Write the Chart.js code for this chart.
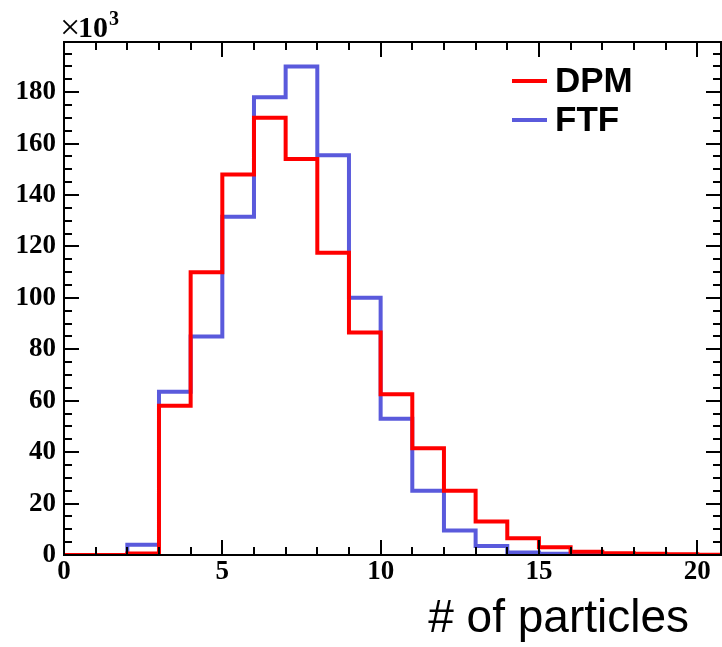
<!DOCTYPE html>
<html>
<head>
<meta charset="utf-8">
<script src="https://cdn.jsdelivr.net/npm/chart.js@4/dist/chart.umd.min.js"></script>
<style>
html,body{margin:0;padding:0;background:#fff;}
#wrap{width:722px;height:647px;position:relative;}
</style>
</head>
<body>
<div id="wrap"><canvas id="c" width="722" height="647"></canvas></div>
<script>
// bin lower edges (width 1)
const binEdges = [0,1,2,3,4,5,6,7,8,9,10,11,12,13,14,15,16,17,18,19,20];
// counts in units of 10^3
const dpmValues = [0,0,0.6,58,110,148,170,154,117.5,86.5,62.5,41.5,25,13,6.5,3,1.3,0.7,0.5,0.3,0.1];
const ftfValues = [0,0,4,63.5,85,131.5,178,190,155.5,100,53,25,9.5,3.5,1,0.5,0.3,0.1,0.1,0,0];
const seriesNames = ['DPM','FTF'];
const xTickLabels = [0,5,10,15,20];
const yTickLabels = [0,20,40,60,80,100,120,140,160,180];

const binWidth = 1;
function histPoints(vals){
  const pts = binEdges.map((e,i)=>({x:e,y:vals[i]}));
  pts.push({x:binEdges[binEdges.length-1]+binWidth,y:vals[vals.length-1]});
  return pts;
}

const RED = '#ff0000';
const BLUE = 'rgb(90,90,220)';

const rootPlugin = {
  id:'rootDeco',
  afterDraw(chart){
    const ctx = chart.ctx;
    const xs = chart.scales.x, ys = chart.scales.y;
    const a = chart.chartArea;
    ctx.save();
    // frame
    ctx.strokeStyle = '#000';
    ctx.lineWidth = 2;
    ctx.strokeRect(a.left, a.top, a.right - a.left, a.bottom - a.top);
    // x ticks (inward, bottom and top)
    for (let v = 0; v <= 20; v += 1){
      const px = Math.round(xs.getPixelForValue(v));
      const len = (v % 5 === 0) ? 15 : 8;
      ctx.beginPath();
      ctx.moveTo(px, a.bottom); ctx.lineTo(px, a.bottom - len);
      ctx.moveTo(px, a.top); ctx.lineTo(px, a.top + len);
      ctx.stroke();
    }
    // y ticks (inward, left and right)
    for (let v = 0; v <= 195; v += 5){
      const py = Math.round(ys.getPixelForValue(v));
      const len = (v % 20 === 0) ? 15 : 8;
      ctx.beginPath();
      ctx.moveTo(a.left, py); ctx.lineTo(a.left + len, py);
      ctx.moveTo(a.right, py); ctx.lineTo(a.right - len, py);
      ctx.stroke();
    }
    // tick labels
    ctx.fillStyle = '#000';
    ctx.font = 'bold 27px "Liberation Serif", "Times New Roman", serif';
    ctx.textAlign = 'center';
    ctx.textBaseline = 'top';
    xTickLabels.forEach(v=>{
      ctx.fillText(String(v), xs.getPixelForValue(v), a.bottom + 4);
    });
    ctx.textAlign = 'right';
    ctx.textBaseline = 'middle';
    yTickLabels.forEach(v=>{
      ctx.fillText(String(v), a.left - 8, ys.getPixelForValue(v));
    });
    // x10^3
    ctx.textAlign = 'left';
    ctx.textBaseline = 'alphabetic';
    ctx.font = '36px "Liberation Serif", "Times New Roman", serif';
    ctx.fillText('\u00d7', 60, 39);
    ctx.font = 'bold 30px "Liberation Serif", "Times New Roman", serif';
    ctx.fillText('10', 78, 37);
    const xx = 78 + ctx.measureText('10').width;
    ctx.font = 'bold 20px "Liberation Serif", "Times New Roman", serif';
    ctx.fillText('3', xx + 1, 25);
    // axis title
    ctx.font = '46px "Liberation Sans", Arial, sans-serif';
    ctx.textAlign = 'right';
    ctx.fillText('# of particles', 689, 632);
    // legend
    const entries = [[seriesNames[0], RED, 81],[seriesNames[1], BLUE, 120]];
    ctx.font = 'bold 35px "Liberation Sans", Arial, sans-serif';
    ctx.textAlign = 'left';
    ctx.textBaseline = 'middle';
    entries.forEach(([name,col,y])=>{
      ctx.strokeStyle = col; ctx.lineWidth = 4;
      ctx.beginPath(); ctx.moveTo(512,y); ctx.lineTo(547,y); ctx.stroke();
      ctx.fillStyle = '#000';
      ctx.fillText(name, 555, y + 1);
    });
    ctx.restore();
  }
};

new Chart(document.getElementById('c'), {
  type:'line',
  data:{
    datasets:[
      {label:seriesNames[0], data:histPoints(dpmValues), borderColor:RED, borderWidth:4, stepped:'before', pointRadius:0, fill:false},
      {label:seriesNames[1], data:histPoints(ftfValues), borderColor:BLUE, borderWidth:4, stepped:'before', pointRadius:0, fill:false}
    ]
  },
  options:{
    responsive:false,
    animation:false,
    events:[],
    layout:{padding:{left:0,right:1,top:42,bottom:0}},
    plugins:{legend:{display:false}, tooltip:{enabled:false}},
    scales:{
      x:{type:'linear', min:0, max:20.75,
         grid:{display:false}, border:{display:false},
         ticks:{display:false},
         afterFit(s){ s.height = 92; }},
      y:{type:'linear', min:0, max:199.5,
         grid:{display:false}, border:{display:false},
         ticks:{display:false},
         afterFit(s){ s.width = 64; }}
    }
  },
  plugins:[rootPlugin]
});
</script>
</body>
</html>
